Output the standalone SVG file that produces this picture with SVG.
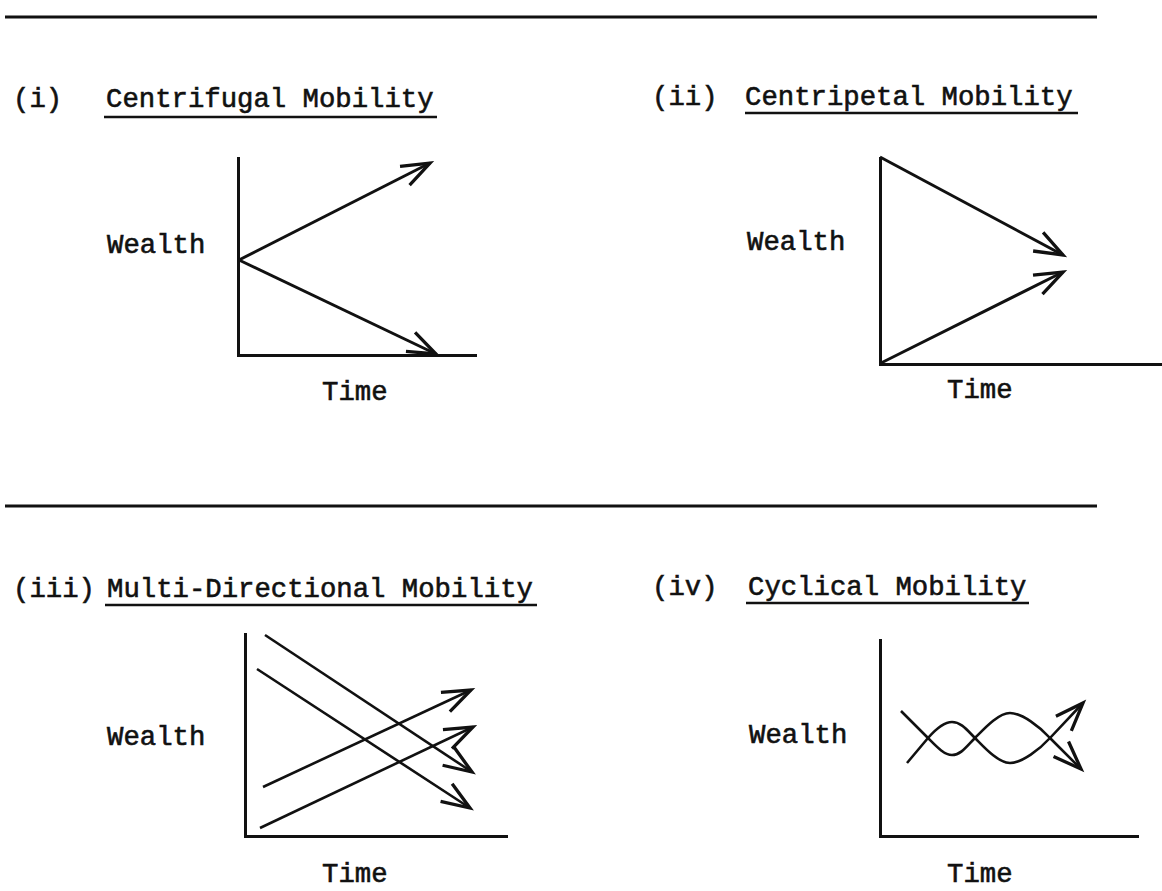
<svg xmlns="http://www.w3.org/2000/svg" width="1162" height="891" viewBox="0 0 1162 891">
<style>
text{font-family:"Liberation Mono","DejaVu Sans Mono",monospace;font-size:27.3px;fill:#111;stroke:#111;stroke-width:0.6}
.rule{stroke:#111;stroke-width:3.2;fill:none}
.ul{stroke:#111;stroke-width:2.6;fill:none}
.axis{stroke:#111;stroke-width:3;fill:none}
.arr{stroke:#111;stroke-width:3;fill:none;marker-end:url(#ah)}
.arr2{stroke:#111;stroke-width:2.6;fill:none;marker-end:url(#ah)}
</style>
<defs>
<marker id="ah" markerUnits="userSpaceOnUse" markerWidth="40" markerHeight="40" refX="0" refY="0" viewBox="-30 -15 34 30" orient="auto" overflow="visible">
<path d="M-24,-9 L0,0 L-24,9" fill="none" stroke="#111" stroke-width="2.8" stroke-linejoin="miter"/>
</marker>
</defs>
<rect width="1162" height="891" fill="#fff"/>
<g id="rules">
<line class="rule" x1="5" y1="17" x2="1097" y2="17"/>
<line class="rule" x1="5" y1="506" x2="1097" y2="506"/>
</g>
<g id="panel-i">
<text x="13" y="107">(i)</text>
<text x="106" y="107">Centrifugal Mobility</text>
<line class="ul" x1="104" y1="117" x2="437" y2="117"/>
<text x="107" y="253">Wealth</text>
<text x="322" y="400">Time</text>
<path class="axis" d="M238.5,157 V355.5 H477"/>
</g>
<g id="panel-ii">
<text x="652" y="105">(ii)</text>
<text x="745" y="105">Centripetal Mobility</text>
<line class="ul" x1="745" y1="113" x2="1078" y2="113"/>
<text x="747" y="250">Wealth</text>
<text x="947" y="398">Time</text>
<path class="axis" d="M880.5,157 V364.5 H1162"/>
</g>
<g id="panel-iii">
<text x="13" y="597">(iii)</text>
<text x="107" y="597">Multi-Directional Mobility</text>
<line class="ul" x1="105" y1="605" x2="537" y2="605"/>
<text x="107" y="745">Wealth</text>
<text x="322" y="882">Time</text>
<path class="axis" d="M245.5,633 V836.5 H508"/>
</g>
<g id="panel-iv">
<text x="652" y="595">(iv)</text>
<text x="748" y="595">Cyclical Mobility</text>
<line class="ul" x1="746" y1="603" x2="1029" y2="603"/>
<text x="749" y="743">Wealth</text>
<text x="947" y="882">Time</text>
<path class="axis" d="M880.5,639 V836.5 H1139"/>
</g>
<g id="connectors">
<line class="arr" x1="239" y1="260" x2="430" y2="163"/>
<line class="arr" x1="239" y1="260" x2="436" y2="354"/>
<line class="arr" x1="880" y1="157" x2="1063" y2="255"/>
<line class="arr" x1="881" y1="363" x2="1063" y2="272"/>
<line class="arr2" x1="265" y1="635" x2="472" y2="772"/>
<line class="arr2" x1="257" y1="669" x2="470" y2="808"/>
<line class="arr2" x1="263" y1="787" x2="471" y2="690"/>
<line class="arr2" x1="260" y1="828" x2="473" y2="727"/>
<path class="arr2" d="M901,711 L928,738 C936,746 944,755 952,755 C961,755 967,746 975,738 C983,730 998,713 1010,713 C1022,713 1040,727 1050,738 L1081,769"/>
<path class="arr2" d="M907,763 L928,738 C935,730 943,722 952,722 C961,722 967,730 975,738 C983,746 998,763 1010,763 C1022,763 1040,749 1050,738 L1083,703"/>
</g>
</svg>
